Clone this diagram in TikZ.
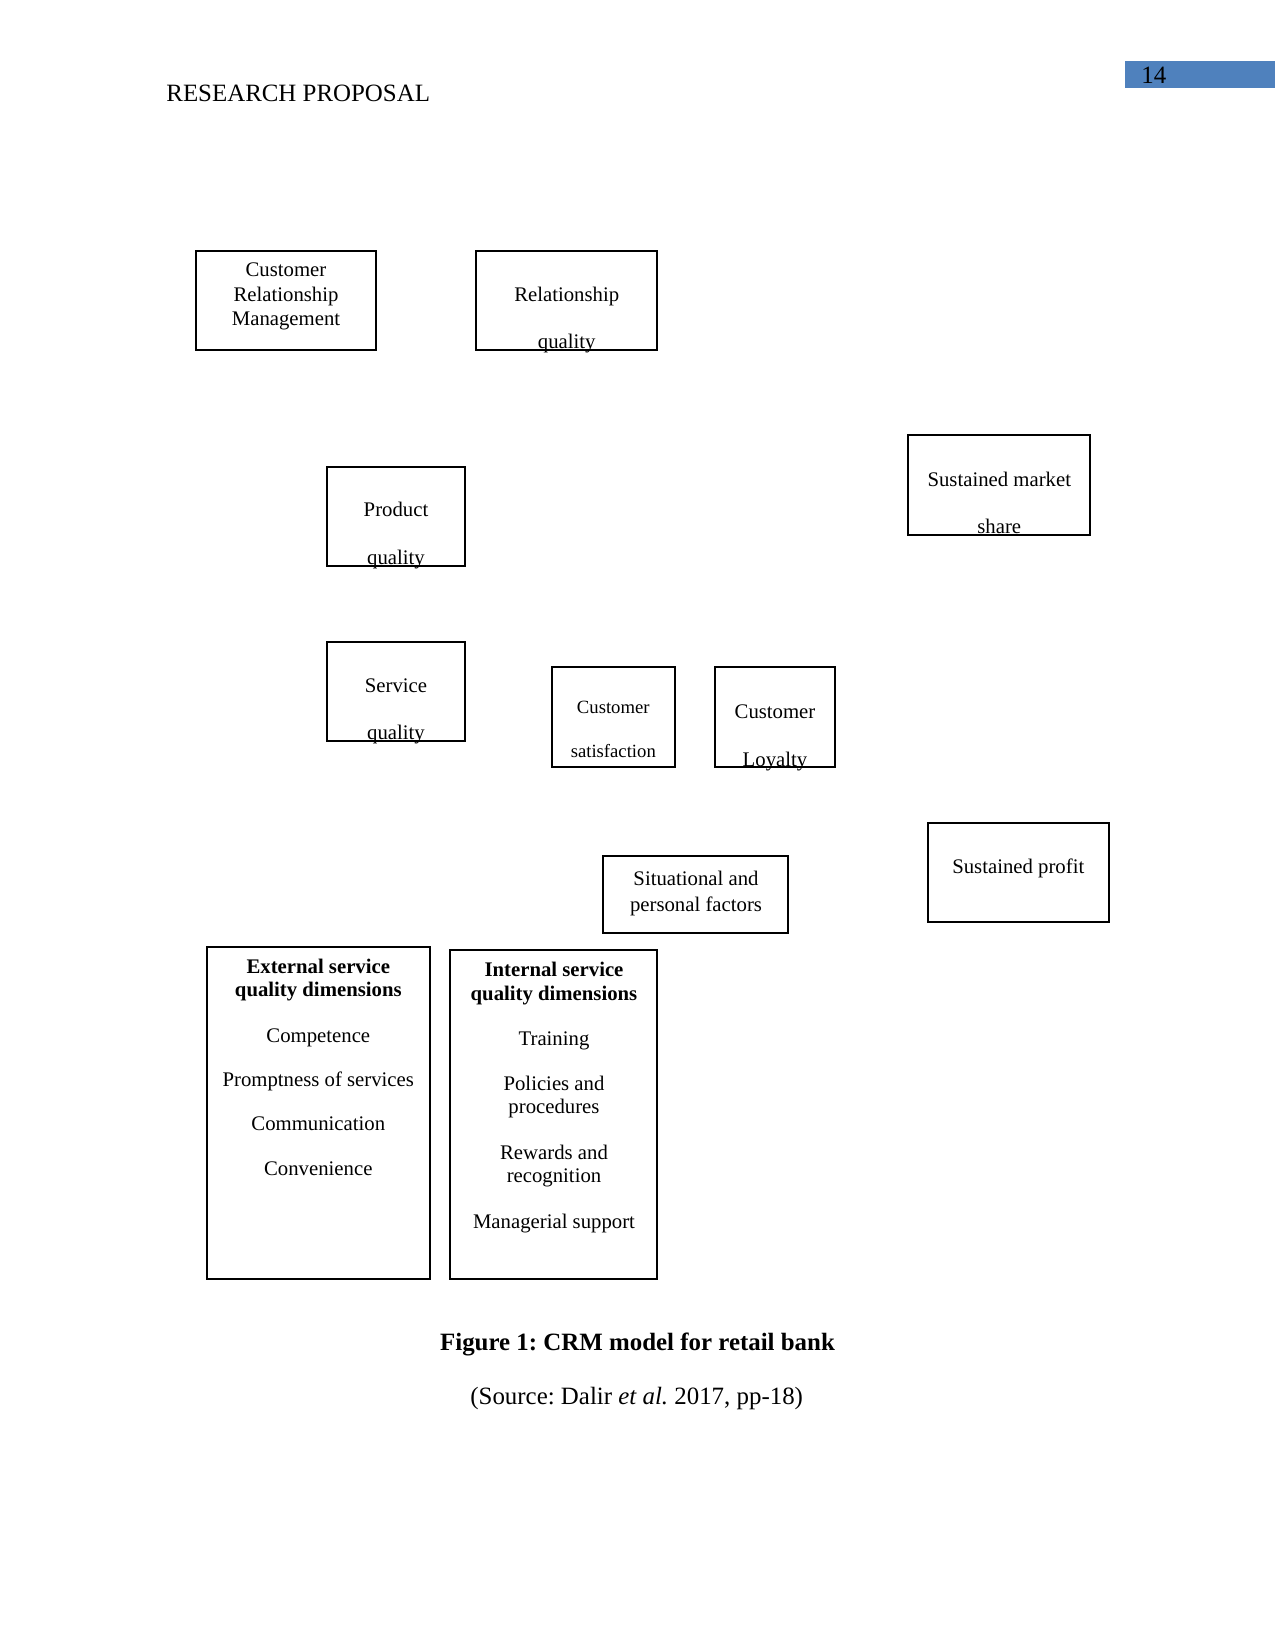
\documentclass[tikz,border=0pt]{standalone}
\usepackage{fontspec}
\setmainfont{Liberation Serif}
\usetikzlibrary{fit}
\definecolor{HeadBlue}{HTML}{4F81BD}
\frenchspacing

\begin{document}
\begin{tikzpicture}[
  x=0.016933cm,y=-0.016933cm,font=\fontsize{10}{12}\selectfont,
  box/.style={draw=black,line width=0.8pt,inner sep=0pt},
  txt/.style={anchor=base,inner sep=0pt},
  head/.style={anchor=base west,inner sep=0pt,font=\fontsize{12}{14}\selectfont},
]
\useasboundingbox (0,0) rectangle (1275,1650);

% running head
\node[head] (runhead) at (166,101) {RESEARCH PROPOSAL};
\node[fill=HeadBlue,inner sep=0pt,fit={(1125,61) (1275,88)}] (pagebar) {};
\node[head] (pagenum) at (1141,83) {14};

% top row
\node[box,fit={(196,251) (376,350)}] (crm) {};
\node[txt] (crm1) at (286,276.7) {Customer};
\node[txt] (crm2) at (286,301.2) {Relationship};
\node[txt] (crm3) at (286,325.2) {Management};

\node[box,fit={(476,251) (657,350)}] (relq) {};
\node[txt] (relq1) at (566.7,301.7) {Relationship};
\node[txt] (relq2) at (566.7,348.8) {quality};

% drivers
\node[box,fit={(327,467) (465,566)}] (prodq) {};
\node[txt] (prodq1) at (396,516.7) {Product};
\node[txt] (prodq2) at (396,564.8) {quality};

\node[box,fit={(327,642) (465,741)}] (servq) {};
\node[txt] (servq1) at (396,692.3) {Service};
\node[txt] (servq2) at (396,739.2) {quality};

\node[box,fit={(552,667) (675,767)}] (sat) {};
\node[txt,font=\fontsize{9}{11}\selectfont] (sat1) at (613.3,713.3) {Customer};
\node[txt,font=\fontsize{9}{11}\selectfont] (sat2) at (613.3,757.3) {satisfaction};

\node[box,fit={(715,667) (835,767)}] (loyal) {};
\node[txt] (loyal1) at (775,718.3) {Customer};
\node[txt] (loyal2) at (775,766.7) {Loyalty};

% outcomes
\node[box,fit={(908,435) (1090,535)}] (share) {};
\node[txt] (share1) at (999.3,486) {Sustained market};
\node[txt] (share2) at (999.3,533.8) {share};

\node[box,fit={(928,823) (1109,922)}] (profit) {};
\node[txt] (profit1) at (1018.3,873.3) {Sustained profit};

\node[box,fit={(603,856) (788,933)}] (situ) {};
\node[txt] (situ1) at (696,885.7) {Situational and};
\node[txt] (situ2) at (696,911.7) {personal factors};

% dimension lists
\node[box,fit={(207,947) (430,1279)}] (ext) {};
\node[txt,font=\fontsize{10}{12}\selectfont\bfseries] (extA) at (318.3,973.3) {External service};
\node[txt,font=\fontsize{10}{12}\selectfont\bfseries] (extB) at (318.3,996.7) {quality dimensions};
\foreach \t/\y [count=\i] in {Competence/1042.3,Promptness of services/1086.7,
    Communication/1130.7,Convenience/1175.7}
  \node[txt] (ext\i) at (318.3,\y) {\t};

\node[box,fit={(450,950) (657,1279)}] (int) {};
\node[txt,font=\fontsize{10}{12}\selectfont\bfseries] (intA) at (554,976.7) {Internal service};
\node[txt,font=\fontsize{10}{12}\selectfont\bfseries] (intB) at (554,1000.7) {quality dimensions};
\foreach \t/\y [count=\i] in {Training/1045,Policies and/1090,procedures/1113.3,
    Rewards and/1159,recognition/1182.3,Managerial support/1228.3}
  \node[txt] (int\i) at (554,\y) {\t};

% caption
\node[txt,font=\fontsize{12}{14}\selectfont\bfseries] (caption) at (637.5,1350.7)
  {Figure 1: CRM model for retail bank};
\node[txt,font=\fontsize{12}{14}\selectfont] (source) at (636.7,1404.3)
  {(Source: Dalir \textit{et al.} 2017, pp-18)};
\end{tikzpicture}
\end{document}
